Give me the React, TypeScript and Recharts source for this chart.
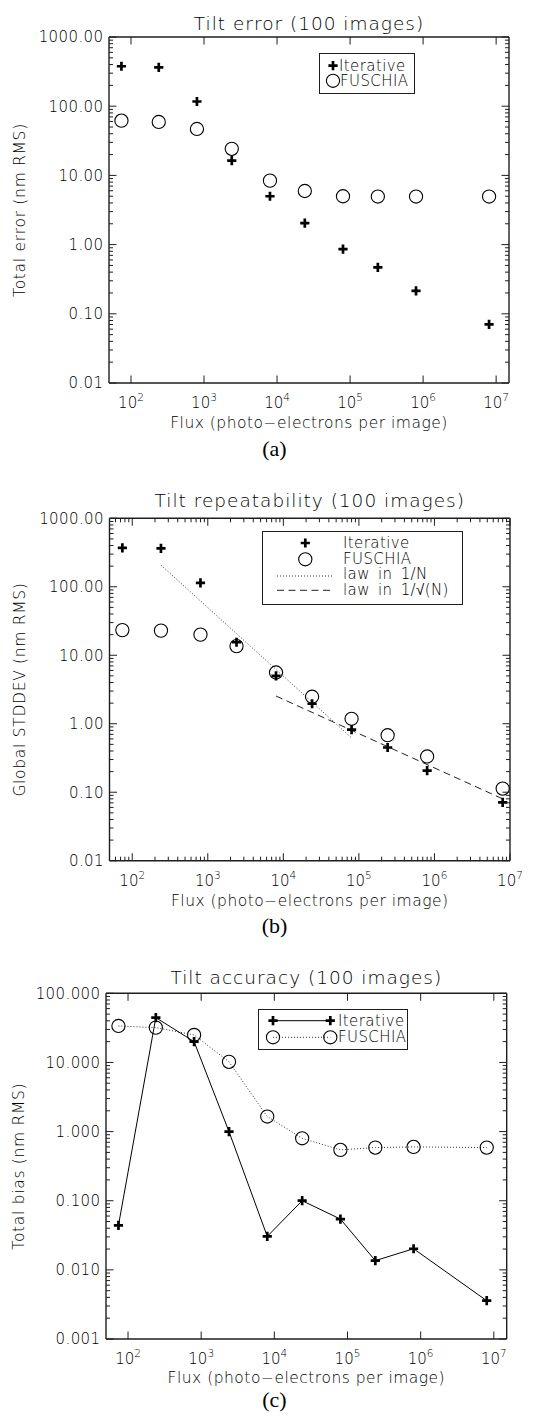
import React from 'react';
import { ScatterChart, Scatter, XAxis, YAxis, Legend } from 'recharts';

const SANS = "'DejaVu Sans', 'Liberation Sans', sans-serif";
const SERIF = "'Liberation Serif', 'DejaVu Serif', serif";
const INK = '#1e1e1e';
const TXT = '#000';
const TW = 200; // light text weight

// ---------------- data ----------------
const flux = [74, 240, 800, 2400, 8000, 24000, 80000, 240000, 800000, 8000000];

// (a) Tilt error
const errIterative = [378, 365, 117, 16.3, 5.0, 2.04, 0.86, 0.47, 0.215, 0.0705];
const errFuschia = [61.8, 59.2, 46.9, 24.2, 8.4, 5.95, 5.0, 4.95, 4.95, 4.95];

// (b) Tilt repeatability
const repIterative = [371, 363, 114, 15.5, 5.0, 1.96, 0.82, 0.45, 0.207, 0.071];
const repFuschia = [23.3, 22.9, 20.0, 13.6, 5.6, 2.48, 1.18, 0.68, 0.333, 0.113];
const law1NFlux = [240, 80000];
const law1NValue = [207, 0.62];
const lawSqrtFlux = [8000, 8000000];
const lawSqrtValue = [2.54, 0.08];

// (c) Tilt accuracy
const accIterative = [0.044, 44.5, 20.0, 1.0, 0.0305, 0.1, 0.0543, 0.0136, 0.0202, 0.00358];
const accFuschia = [33.7, 31.9, 25.0, 10.2, 1.65, 0.8, 0.543, 0.587, 0.6, 0.587];

// ticks
const xMajorTicks = [1e2, 1e3, 1e4, 1e5, 1e6, 1e7];
const xTickExponents = ['2', '3', '4', '5', '6', '7'];
const yTicksAB = [0.01, 0.1, 1, 10, 100, 1000];
const yTickLabelsAB = ['0.01', '0.10', '1.00', '10.00', '100.00', '1000.00'];
const yTicksC = [0.001, 0.01, 0.1, 1, 10, 100];
const yTickLabelsC = ['0.001', '0.010', '0.100', '1.000', '10.000', '100.000'];

const pts = (xs: number[], ys: number[]) => xs.map((x, i) => ({ x, y: ys[i] }));

function logMinors(lo: number, hi: number) {
  const out: number[] = [];
  for (let e = -4; e <= 8; e++) {
    for (let m = 2; m <= 9; m++) {
      const v = m * Math.pow(10, e);
      if (v > lo * 1.0001 && v < hi * 0.9999) out.push(v);
    }
  }
  return out;
}

const MAJOR = 7.5;
const MINOR = 4;

const idxOf = (majors: number[], v: number) =>
  majors.findIndex((m) => Math.abs(Math.log10(m) - Math.log10(v)) < 1e-6);

function makeXTick(side: 'bottom' | 'top', majors: number[], exps: string[] | null) {
  return (props: any) => {
    const { x, y, payload } = props;
    const v = payload?.value;
    const idx = idxOf(majors, v);
    const len = idx >= 0 ? MAJOR : MINOR;
    const dir = side === 'bottom' ? -1 : 1;
    return (
      <g>
        <line x1={x} x2={x} y1={y} y2={y + dir * len} stroke={INK} strokeWidth={1} />
        {exps && idx >= 0 ? (
          <text x={x} y={y + 25} textAnchor="middle" fontFamily={SANS} fontWeight={TW} fontSize={15} fill={TXT}>
            10
            <tspan dy={-7} fontSize={10.5}>
              {exps[idx]}
            </tspan>
          </text>
        ) : null}
      </g>
    );
  };
}

function makeYTick(side: 'left' | 'right', majors: number[], labels: string[] | null) {
  return (props: any) => {
    const { x, y, payload } = props;
    const v = payload?.value;
    const idx = idxOf(majors, v);
    const len = idx >= 0 ? MAJOR : MINOR;
    const dir = side === 'left' ? 1 : -1;
    return (
      <g>
        <line x1={x} x2={x + dir * len} y1={y} y2={y} stroke={INK} strokeWidth={1} />
        {labels && idx >= 0 ? (
          <text
            x={x - 5.5}
            y={y + 5.3}
            textAnchor="end"
            fontFamily={SANS}
            fontWeight={TW}
            fontSize={15}
            fill={TXT}
            style={{ letterSpacing: '0.4px' }}
          >
            {labels[idx]}
          </text>
        ) : null}
      </g>
    );
  };
}

const PlusGlyph = ({ cx, cy }: { cx: number; cy: number }) => (
  <path
    d={`M${cx - 4.6},${cy}H${cx + 4.6}M${cx},${cy - 4.6}V${cy + 4.6}`}
    stroke="#000"
    strokeWidth={2.7}
    fill="none"
  />
);
const CircleGlyph = ({ cx, cy }: { cx: number; cy: number }) => (
  <circle cx={cx} cy={cy} r={6.6} fill="none" stroke="#000" strokeWidth={1.1} />
);

const PlusShape = (p: any) => <PlusGlyph cx={p.cx} cy={p.cy} />;
const CircleShape = (p: any) => <CircleGlyph cx={p.cx} cy={p.cy} />;
const NoShape = () => <g />;

const legendText = (x: number, y: number, s: string) => (
  <text
    x={x}
    y={y}
    fontFamily={SANS}
    fontWeight={TW}
    fontSize={15}
    fill={TXT}
    style={{ letterSpacing: '0.4px', wordSpacing: '3px' }}
  >
    {s}
  </text>
);

const LegendA = () => (
  <svg width={96} height={41} style={{ display: 'block' }}>
    <rect x={0.5} y={0.5} width={95} height={40} fill="#fff" stroke={INK} strokeWidth={1} />
    <PlusGlyph cx={14} cy={12.7} />
    {legendText(20, 17.6, 'Iterative')}
    <CircleGlyph cx={14} cy={27.8} />
    {legendText(21, 32.8, 'FUSCHIA')}
  </svg>
);

const LegendB = () => (
  <svg width={201} height={74} style={{ display: 'block' }}>
    <rect x={0.5} y={0.5} width={200} height={73} fill="#fff" stroke={INK} strokeWidth={1} />
    <PlusGlyph cx={43.3} cy={12} />
    {legendText(81, 17, 'Iterative')}
    <CircleGlyph cx={43.3} cy={28.3} />
    {legendText(81, 32.6, 'FUSCHIA')}
    <line x1={15} x2={70} y1={45} y2={45} stroke="#333" strokeWidth={1} strokeDasharray="1 2" />
    {legendText(81, 48.4, 'law in 1/N')}
    <line x1={15} x2={70} y1={59.3} y2={59.3} stroke="#222" strokeWidth={1} strokeDasharray="7 4.5" />
    {legendText(81, 63.6, 'law in 1/√(N)')}
  </svg>
);

const LegendC = () => (
  <svg width={150} height={41} style={{ display: 'block' }}>
    <rect x={0.5} y={0.5} width={149} height={40} fill="#fff" stroke={INK} strokeWidth={1} />
    <line x1={15} x2={72.3} y1={11.7} y2={11.7} stroke="#000" strokeWidth={1} />
    <PlusGlyph cx={15} cy={11.7} />
    <PlusGlyph cx={72.3} cy={11.7} />
    {legendText(80, 16.6, 'Iterative')}
    <line x1={15} x2={72.3} y1={28.3} y2={28.3} stroke="#333" strokeWidth={1} strokeDasharray="1 2" />
    <CircleGlyph cx={15} cy={28.3} />
    <CircleGlyph cx={72.3} cy={28.3} />
    {legendText(80, 33.3, 'FUSCHIA')}
  </svg>
);

type Cfg = {
  top: number;
  height: number;
  left: number;
  right: number;
  plotTop: number;
  plotBottom: number;
  xDomain: [number, number];
  yDomain: [number, number];
  xMinor: boolean;
  yMajors: number[];
  yLabels: string[];
  title: string;
  titleGap: number;
  yTitle: string;
  caption: string;
  captionDy: number;
  xTitleDy: number;
  legend: React.ReactElement;
  legendPos: { left: number; top: number; width: number; height: number };
  children: React.ReactNode;
};

function Panel(c: Cfg) {
  const H_AX = 30;
  const W_AX = 60;
  const margin = {
    top: c.plotTop - 5,
    bottom: c.height - c.plotBottom - H_AX,
    left: c.left - W_AX,
    right: 549 - c.right - 5,
  };
  const xTicks = c.xMinor
    ? [...xMajorTicks.filter((t) => t <= c.xDomain[1]), ...logMinors(c.xDomain[0], c.xDomain[1])]
    : xMajorTicks.filter((t) => t <= c.xDomain[1]);
  const yTicks = [...c.yMajors, ...logMinors(c.yDomain[0], c.yDomain[1])];
  const axisLine = { stroke: INK, strokeWidth: 1.4 };
  const common = {
    type: 'number' as const,
    scale: 'log' as const,
    allowDataOverflow: true,
    interval: 0 as const,
    tickLine: false,
    tickSize: 0,
    tickMargin: 0,
    axisLine,
  };
  return (
    <div style={{ position: 'absolute', left: 0, top: c.top, width: 549, height: c.height }}>
      <ScatterChart width={549} height={c.height} margin={margin}>
        <XAxis
          {...common}
          xAxisId="b"
          dataKey="x"
          domain={c.xDomain}
          ticks={xTicks}
          height={H_AX}
          tick={makeXTick('bottom', xMajorTicks, xTickExponents)}
          label={(p: any) => {
            const vb = p.viewBox || {};
            return (
              <g>
                <text
                  x={vb.x + vb.width / 2}
                  y={vb.y + c.xTitleDy}
                  textAnchor="middle"
                  fontFamily={SANS}
                  fontWeight={TW}
                  fontSize={15.5}
                  fill={TXT}
                  style={{ letterSpacing: '0.5px' }}
                >
                  Flux (photo−electrons per image)
                </text>
                <text x={274.5} y={vb.y + c.captionDy} textAnchor="middle" fontFamily={SERIF} fontSize={22} fill="#000">
                  {c.caption}
                </text>
              </g>
            );
          }}
        />
        <XAxis
          {...common}
          xAxisId="t"
          orientation="top"
          dataKey="x"
          domain={c.xDomain}
          ticks={xTicks}
          height={5}
          tick={makeXTick('top', xMajorTicks, null)}
          label={(p: any) => {
            const vb = p.viewBox || {};
            return (
              <text
                x={vb.x + vb.width / 2}
                y={vb.y + vb.height - c.titleGap}
                textAnchor="middle"
                fontFamily={SANS}
                fontWeight={TW}
                fontSize={18.5}
                fill={TXT}
                style={{ letterSpacing: '1px' }}
              >
                {c.title}
              </text>
            );
          }}
        />
        <YAxis
          {...common}
          yAxisId="l"
          dataKey="y"
          domain={c.yDomain}
          ticks={yTicks}
          width={W_AX}
          tick={makeYTick('left', c.yMajors, c.yLabels)}
          label={(p: any) => {
            const vb = p.viewBox || {};
            const cy = vb.y + vb.height / 2;
            return (
              <text
                x={24.5}
                y={cy}
                transform={`rotate(-90, 24.5, ${cy})`}
                textAnchor="middle"
                fontFamily={SANS}
                fontWeight={TW}
                fontSize={15.5}
                fill={TXT}
                style={{ letterSpacing: '0.7px' }}
              >
                {c.yTitle}
              </text>
            );
          }}
        />
        <YAxis
          {...common}
          yAxisId="r"
          orientation="right"
          dataKey="y"
          domain={c.yDomain}
          ticks={yTicks}
          width={5}
          tick={makeYTick('right', c.yMajors, null)}
        />
        {c.children}
        <Legend
          layout="vertical"
          align="center"
          verticalAlign="middle"
          wrapperStyle={{ ...c.legendPos }}
          content={() => c.legend}
        />
      </ScatterChart>
    </div>
  );
}

export default function App() {
  return (
    <div
      style={{
        position: 'absolute',
        left: 0,
        top: 0,
        width: 549,
        height: 1421,
        background: '#fff',
        overflow: 'hidden',
      }}
    >
      <Panel
        top={0}
        height={470}
        left={109}
        right={509}
        plotTop={37}
        plotBottom={383}
        xDomain={[50, 1.5e7]}
        yDomain={[0.01, 1000]}
        xMinor={false}
        yMajors={yTicksAB}
        yLabels={yTickLabelsAB}
        title="Tilt error (100 images)"
        titleGap={7.5}
        yTitle="Total error (nm RMS)"
        caption="(a)"
        captionDy={72.5}
        xTitleDy={45}
        legend={<LegendA />}
        legendPos={{ left: 319, top: 53, width: 96, height: 41 }}
      >
        <Scatter xAxisId="b" yAxisId="l" data={pts(flux, errIterative)} shape={PlusShape} isAnimationActive={false} />
        <Scatter xAxisId="b" yAxisId="l" data={pts(flux, errFuschia)} shape={CircleShape} isAnimationActive={false} />
      </Panel>

      <Panel
        top={470}
        height={475}
        left={109.5}
        right={510}
        plotTop={48.3}
        plotBottom={390.7}
        xDomain={[50, 1e7]}
        yDomain={[0.01, 1000]}
        xMinor={true}
        yMajors={yTicksAB}
        yLabels={yTickLabelsAB}
        title="Tilt repeatability (100 images)"
        titleGap={11}
        yTitle="Global STDDEV (nm RMS)"
        caption="(b)"
        captionDy={72}
        xTitleDy={45.5}
        legend={<LegendB />}
        legendPos={{ left: 261.5, top: 60.7, width: 201, height: 74 }}
      >
        <Scatter
          xAxisId="b"
          yAxisId="l"
          data={pts(law1NFlux, law1NValue)}
          shape={NoShape}
          line={{ stroke: '#333', strokeWidth: 1, strokeDasharray: '1 2' }}
          isAnimationActive={false}
        />
        <Scatter
          xAxisId="b"
          yAxisId="l"
          data={pts(lawSqrtFlux, lawSqrtValue)}
          shape={NoShape}
          line={{ stroke: '#222', strokeWidth: 1, strokeDasharray: '7 4.5' }}
          isAnimationActive={false}
        />
        <Scatter xAxisId="b" yAxisId="l" data={pts(flux, repIterative)} shape={PlusShape} isAnimationActive={false} />
        <Scatter xAxisId="b" yAxisId="l" data={pts(flux, repFuschia)} shape={CircleShape} isAnimationActive={false} />
      </Panel>

      <Panel
        top={945}
        height={476}
        left={106}
        right={506.7}
        plotTop={48.3}
        plotBottom={394}
        xDomain={[50, 1.5e7]}
        yDomain={[0.001, 100]}
        xMinor={false}
        yMajors={yTicksC}
        yLabels={yTickLabelsC}
        title="Tilt accuracy (100 images)"
        titleGap={9.5}
        yTitle="Total bias (nm RMS)"
        caption="(c)"
        captionDy={67.5}
        xTitleDy={43.5}
        legend={<LegendC />}
        legendPos={{ left: 257.5, top: 64, width: 150, height: 41 }}
      >
        <Scatter
          xAxisId="b"
          yAxisId="l"
          data={pts(flux, accFuschia)}
          shape={CircleShape}
          line={{ stroke: '#333', strokeWidth: 1, strokeDasharray: '1 2' }}
          isAnimationActive={false}
        />
        <Scatter
          xAxisId="b"
          yAxisId="l"
          data={pts(flux, accIterative)}
          shape={PlusShape}
          line={{ stroke: '#000', strokeWidth: 1 }}
          isAnimationActive={false}
        />
      </Panel>
    </div>
  );
}
